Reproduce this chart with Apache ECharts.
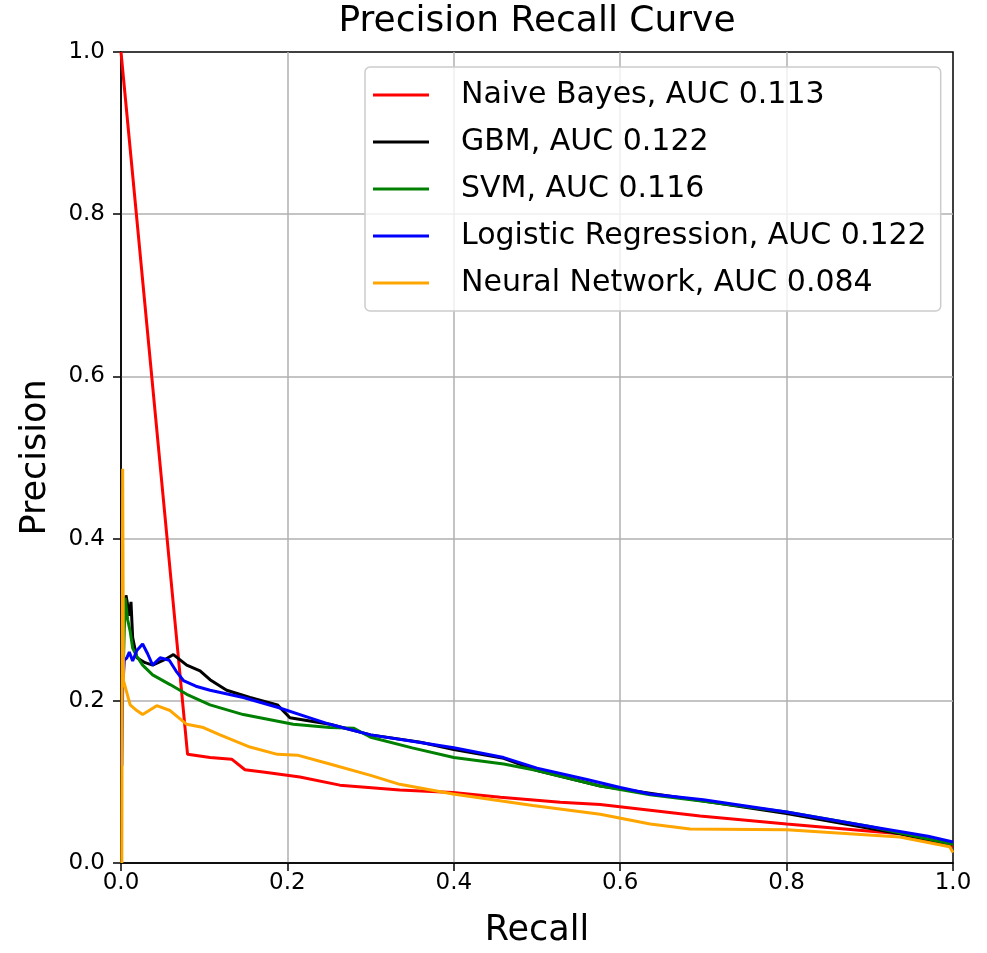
<!DOCTYPE html>
<html>
<head>
<meta charset="utf-8">
<title>Precision Recall Curve</title>
<script src="https://cdn.jsdelivr.net/npm/echarts@6/dist/echarts.min.js"></script>
<style>
  html, body { margin: 0; padding: 0; background: #fff; }
  #myChart { width: 987px; height: 953px; }
</style>
</head>
<body>
<div id="myChart"></div>
<script>
// values
var legendNames = [
  'Naive Bayes, AUC 0.113',
  'GBM, AUC 0.122',
  'SVM, AUC 0.116',
  'Logistic Regression, AUC 0.122',
  'Neural Network, AUC 0.084'
];
var lineColors = ['#ff0000', '#000000', '#008000', '#0000ff', '#ffa500'];

var nbRecall    = [0, 0.080, 0.107, 0.133, 0.149, 0.173, 0.215, 0.263, 0.335, 0.399, 0.456, 0.528, 0.576, 0.636, 0.696, 0.800, 0.936, 1.0];
var nbPrecision = [1.0, 0.134, 0.130, 0.128, 0.115, 0.112, 0.106, 0.096, 0.090, 0.087, 0.081, 0.075, 0.072, 0.065, 0.058, 0.048, 0.036, 0.020];

var gbmRecall    = [0.004, 0.006, 0.008, 0.010, 0.012, 0.014, 0.019, 0.029, 0.038, 0.053, 0.063, 0.079, 0.095, 0.107, 0.127, 0.155, 0.188, 0.203, 0.251, 0.300, 0.360, 0.400, 0.460, 0.500, 0.576, 0.650, 0.800, 0.936, 1.0];
var gbmPrecision = [0.300, 0.330, 0.318, 0.305, 0.322, 0.278, 0.253, 0.247, 0.244, 0.251, 0.257, 0.244, 0.237, 0.226, 0.213, 0.204, 0.195, 0.179, 0.171, 0.158, 0.149, 0.140, 0.129, 0.114, 0.095, 0.084, 0.061, 0.036, 0.023];

var svmRecall    = [0.003, 0.005, 0.008, 0.011, 0.014, 0.019, 0.026, 0.038, 0.059, 0.079, 0.107, 0.147, 0.207, 0.251, 0.280, 0.300, 0.350, 0.400, 0.460, 0.500, 0.576, 0.636, 0.700, 0.800, 0.900, 1.0];
var svmPrecision = [0.250, 0.327, 0.300, 0.286, 0.265, 0.255, 0.244, 0.232, 0.220, 0.208, 0.195, 0.183, 0.171, 0.167, 0.166, 0.155, 0.142, 0.130, 0.122, 0.114, 0.095, 0.084, 0.076, 0.063, 0.045, 0.023];

var lrRecall    = [0.001, 0.002, 0.004, 0.007, 0.010, 0.014, 0.019, 0.026, 0.032, 0.038, 0.047, 0.058, 0.066, 0.075, 0.090, 0.107, 0.147, 0.188, 0.227, 0.251, 0.300, 0.350, 0.400, 0.460, 0.500, 0.560, 0.600, 0.636, 0.700, 0.800, 0.900, 0.970, 1.0];
var lrPrecision = [0.120, 0.215, 0.250, 0.253, 0.260, 0.249, 0.262, 0.270, 0.258, 0.244, 0.253, 0.250, 0.237, 0.225, 0.218, 0.213, 0.204, 0.192, 0.179, 0.171, 0.158, 0.150, 0.142, 0.130, 0.117, 0.103, 0.093, 0.085, 0.078, 0.063, 0.045, 0.033, 0.026];

var nnRecall    = [0.001, 0.002, 0.003, 0.011, 0.019, 0.026, 0.043, 0.059, 0.079, 0.099, 0.119, 0.155, 0.188, 0.212, 0.251, 0.300, 0.335, 0.399, 0.495, 0.576, 0.636, 0.684, 0.800, 0.936, 0.996, 1.0];
var nnPrecision = [0.000, 0.486, 0.225, 0.195, 0.188, 0.183, 0.194, 0.188, 0.171, 0.167, 0.158, 0.143, 0.134, 0.133, 0.122, 0.108, 0.097, 0.085, 0.071, 0.060, 0.048, 0.042, 0.041, 0.032, 0.020, 0.013];

function pairs(xs, ys) {
  var out = [];
  for (var i = 0; i < xs.length; i++) {
    out.push([xs[i], ys[i]]);
  }
  return out;
}

var curveData = [
  pairs(nbRecall, nbPrecision),
  pairs(gbmRecall, gbmPrecision),
  pairs(svmRecall, svmPrecision),
  pairs(lrRecall, lrPrecision),
  pairs(nnRecall, nnPrecision)
];

var series = [];
legendNames.forEach(function (name, i) {
  series.push({
    name: name,
    type: 'line',
    data: curveData[i],
    showSymbol: false,
    symbol: 'none',
    lineStyle: { color: lineColors[i], width: 3 },
    itemStyle: { color: lineColors[i] },
    emphasis: { disabled: true }
  });
});

var myChart = echarts.init(document.getElementById('myChart'));

var axisCommon = {
  type: 'value',
  min: 0,
  max: 1,
  interval: 0.2,
  nameLocation: 'middle',
  nameTextStyle: { fontSize: 35, color: '#000' },
  axisLine: { show: true, lineStyle: { color: '#000', width: 1.5 } },
  axisTick: { show: true, inside: false, length: 8, lineStyle: { color: '#000', width: 1.5 } },
  axisLabel: {
    fontSize: 23,
    color: '#000',
    formatter: function (v) { return v.toFixed(1); }
  },
  splitLine: {
    show: true,
    showMinLine: false,
    showMaxLine: false,
    lineStyle: { color: '#b0b0b0', width: 1.5 }
  }
};

myChart.setOption({
  animation: false,
  textStyle: { fontFamily: 'DejaVu Sans' },
  title: {
    text: 'Precision Recall Curve',
    left: 537,
    textAlign: 'center',
    top: 4,
    padding: 0,
    textStyle: { fontSize: 36, fontWeight: 'normal', color: '#000' }
  },
  grid: {
    left: 121,
    right: 34,
    top: 52,
    bottom: 87,
    show: true,
    borderColor: '#000',
    borderWidth: 1.5,
    backgroundColor: '#fff'
  },
  legend: {
    data: legendNames,
    orient: 'vertical',
    left: 365,
    top: 67,
    padding: [10, 14, 10, 8],
    itemGap: 11,
    itemWidth: 56,
    itemHeight: 3,
    icon: 'rect',
    backgroundColor: 'rgba(255,255,255,0.8)',
    borderColor: '#cccccc',
    borderWidth: 1.5,
    borderRadius: 5,
    selectedMode: false,
    textStyle: { fontSize: 30, color: '#000', lineHeight: 36, padding: [0, 0, 0, 27] }
  },
  xAxis: Object.assign({}, axisCommon, {
    name: 'Recall',
    nameGap: 50,
    axisLabel: Object.assign({}, axisCommon.axisLabel, { margin: 9 })
  }),
  yAxis: Object.assign({}, axisCommon, {
    name: 'Precision',
    nameGap: 68,
    axisLabel: Object.assign({}, axisCommon.axisLabel, { margin: 16 })
  }),
  series: series
});
</script>
</body>
</html>
